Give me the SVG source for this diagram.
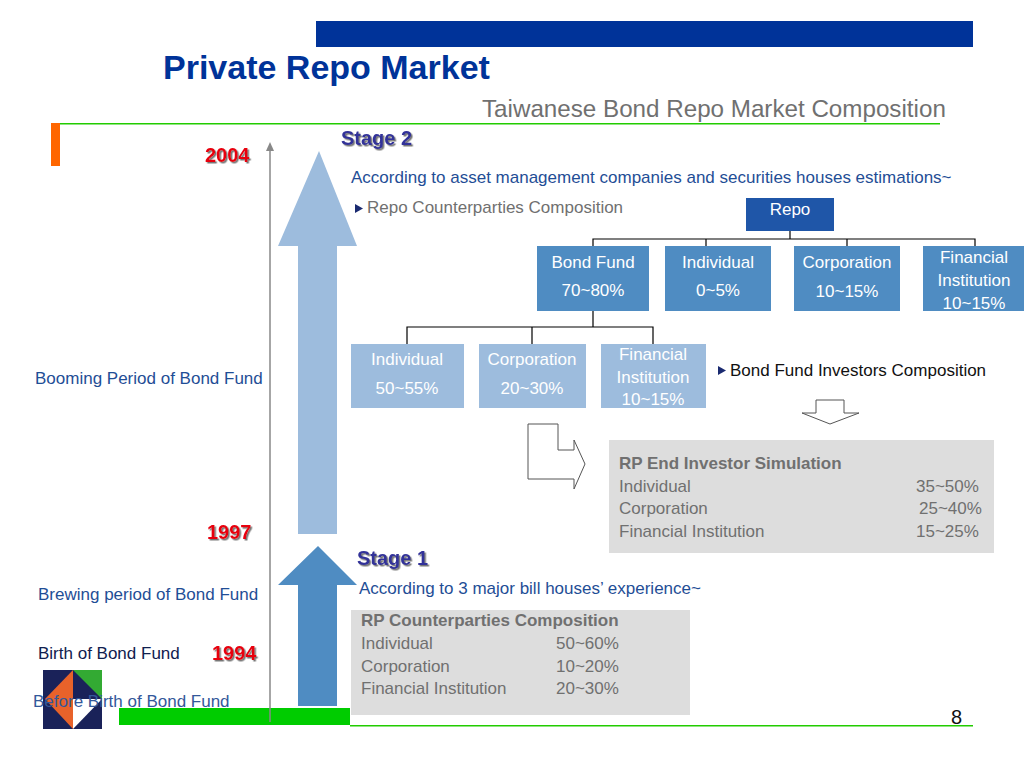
<svg xmlns="http://www.w3.org/2000/svg" width="1024" height="768" viewBox="0 0 1024 768">
<style>
text{font-family:"Liberation Sans",Arial,sans-serif;font-size:17px}
.w{fill:#fff;text-anchor:middle}
.b{fill:#1f4e96}
.g{fill:#707070}
.gb{fill:#707070;font-weight:bold}
.yr{fill:#e8000f;font-weight:bold;font-size:20px;filter:url(#soft)}
.st{fill:#333399;font-weight:bold;font-size:20px;filter:url(#soft)}
.tree{stroke:#000;stroke-width:1.2;fill:none}
</style>
<defs>
<filter id="soft" x="-10%" y="-20%" width="125%" height="150%"><feDropShadow dx="1.500" dy="1.500" stdDeviation="0.600" flood-color="#777"/></filter>
</defs>
<rect width="1024" height="768" fill="#fff"/>
<g id="header">
<rect x="316" y="21" width="657" height="26" fill="#003399"/>
<text x="163" y="79" font-weight="bold" style="font-size:34px" fill="#003399">Private Repo Market</text>
<text x="482" y="117" style="font-size:24.200px" fill="#707070">Taiwanese Bond Repo Market Composition</text>
<rect x="51" y="123" width="9" height="43" fill="#ff6600"/>
<rect x="60" y="123" width="880" height="1.500" fill="#22cc00"/>
</g>
<g id="logo">
<rect x="43" y="670" width="59" height="59" fill="#1a2259"/>
<path d="M73 670H102V699Z" fill="#33aa33"/>
<path d="M73 670V729L45 699Z" fill="#e8622a"/>
<path d="M73 729V699H102Z" fill="#fff"/>
</g>
<g id="base">
<rect x="119" y="708" width="231" height="17" fill="#00cc00"/>
<rect x="350" y="725" width="623" height="1.500" fill="#22cc00"/>
</g>
<g id="connectors">
<g id="timeline">
<path d="M270 722V150" stroke="#888" stroke-width="1.500" fill="none"/>
<path d="M266 151L270 142L274 151Z" fill="#888"/>
</g>
<path class="tree" d="M790 231V239M593 246V239H975V246M706 239V246M847 239V246"/>
<path class="tree" d="M593 311V327M407 344V327H653V344M532 327V344"/>
</g>
<g id="arrow-stage2"><path d="M319 151L357 246H337V534H298V246H278Z" fill="#9dbcdd"/></g>
<g id="arrow-stage1"><path d="M318 546L357 585H337V706H298V585H278Z" fill="#4f8cc2"/></g>
<g id="hollow-arrow-right"><path d="M528 424H558V450H574V440L585 464L574 489V479H528Z" fill="#fff" stroke="#555" stroke-width="1"/></g>
<g id="hollow-arrow-down"><path d="M816 400H844V413H859L830 424L802 413H816Z" fill="#fff" stroke="#555" stroke-width="1"/></g>
<g id="timeline-labels">
<text x="205" y="162" class="yr">2004</text>
<text x="207" y="539" class="yr">1997</text>
<text x="212" y="660" class="yr">1994</text>
<text x="35" y="384" class="b">Booming Period of Bond Fund</text>
<text x="38" y="600" class="b">Brewing period of Bond Fund</text>
<text x="38" y="659" fill="#10204f">Birth of Bond Fund</text>
<text x="33" y="707" fill="#33589a">Before Birth of Bond Fund</text>
</g>
<g id="stage2">
<text x="341" y="145" class="st">Stage 2</text>
<text x="351" y="183" class="b">According to asset management companies and securities houses estimations~</text>
<path d="M355 204L363 208.500L355 213Z" fill="#1a2a70"/>
<text x="367" y="213" class="g">Repo Counterparties Composition</text>
</g>
<g id="node-repo"><rect x="746" y="198" width="88" height="33" fill="#1f56a8"/><text x="790" y="215" class="w">Repo</text></g>
<g id="node-bond-fund"><rect x="537" y="246" width="112" height="65" fill="#4f8cc2"/><text x="593" y="268" class="w">Bond Fund</text><text x="593" y="296" class="w">70~80%</text></g>
<g id="node-individual"><rect x="665" y="246" width="106" height="65" fill="#4f8cc2"/><text x="718" y="268" class="w">Individual</text><text x="718" y="296" class="w">0~5%</text></g>
<g id="node-corporation"><rect x="794" y="246" width="106" height="65" fill="#4f8cc2"/><text x="847" y="268" class="w">Corporation</text><text x="847" y="297" class="w">10~15%</text></g>
<g id="node-financial"><rect x="923" y="246" width="101" height="65" fill="#4f8cc2"/><text x="974" y="263" class="w">Financial</text><text x="974" y="286" class="w">Institution</text><text x="974" y="309" class="w">10~15%</text></g>
<g id="node-inv-individual"><rect x="351" y="344" width="113" height="64" fill="#9dbcdd"/><text x="407" y="365" class="w">Individual</text><text x="407" y="394" class="w">50~55%</text></g>
<g id="node-inv-corporation"><rect x="479" y="344" width="107" height="64" fill="#9dbcdd"/><text x="532" y="365" class="w">Corporation</text><text x="532" y="394" class="w">20~30%</text></g>
<g id="node-inv-financial"><rect x="601" y="344" width="105" height="64" fill="#9dbcdd"/><text x="653" y="360" class="w">Financial</text><text x="653" y="383" class="w">Institution</text><text x="653" y="405" class="w">10~15%</text></g>
<g id="investors-label">
<path d="M718 366L726 370.500L718 375Z" fill="#1a2a70"/>
<text x="730" y="376" fill="#111">Bond Fund Investors Composition</text>
</g>
<g id="box-simulation">
<rect x="609" y="440" width="385" height="113" fill="#dddddd"/>
<text x="619" y="469" class="gb">RP End Investor Simulation</text>
<text x="619" y="492" class="g">Individual</text><text x="916" y="492" class="g">35~50%</text>
<text x="619" y="514" class="g">Corporation</text><text x="919" y="514" class="g">25~40%</text>
<text x="619" y="537" class="g">Financial Institution</text><text x="916" y="537" class="g">15~25%</text>
</g>
<g id="stage1">
<text x="357" y="565" class="st">Stage 1</text>
<text x="359" y="594" class="b">According to 3 major bill houses’ experience~</text>
</g>
<g id="box-counterparties">
<rect x="351" y="610" width="339" height="105" fill="#dddddd"/>
<text x="361" y="626" class="gb">RP Counterparties Composition</text>
<text x="361" y="649" class="g">Individual</text><text x="556" y="649" class="g">50~60%</text>
<text x="361" y="672" class="g">Corporation</text><text x="556" y="672" class="g">10~20%</text>
<text x="361" y="694" class="g">Financial Institution</text><text x="556" y="694" class="g">20~30%</text>
</g>
<text id="page-number" x="951" y="724" style="font-size:20px" fill="#111">8</text>
</svg>
